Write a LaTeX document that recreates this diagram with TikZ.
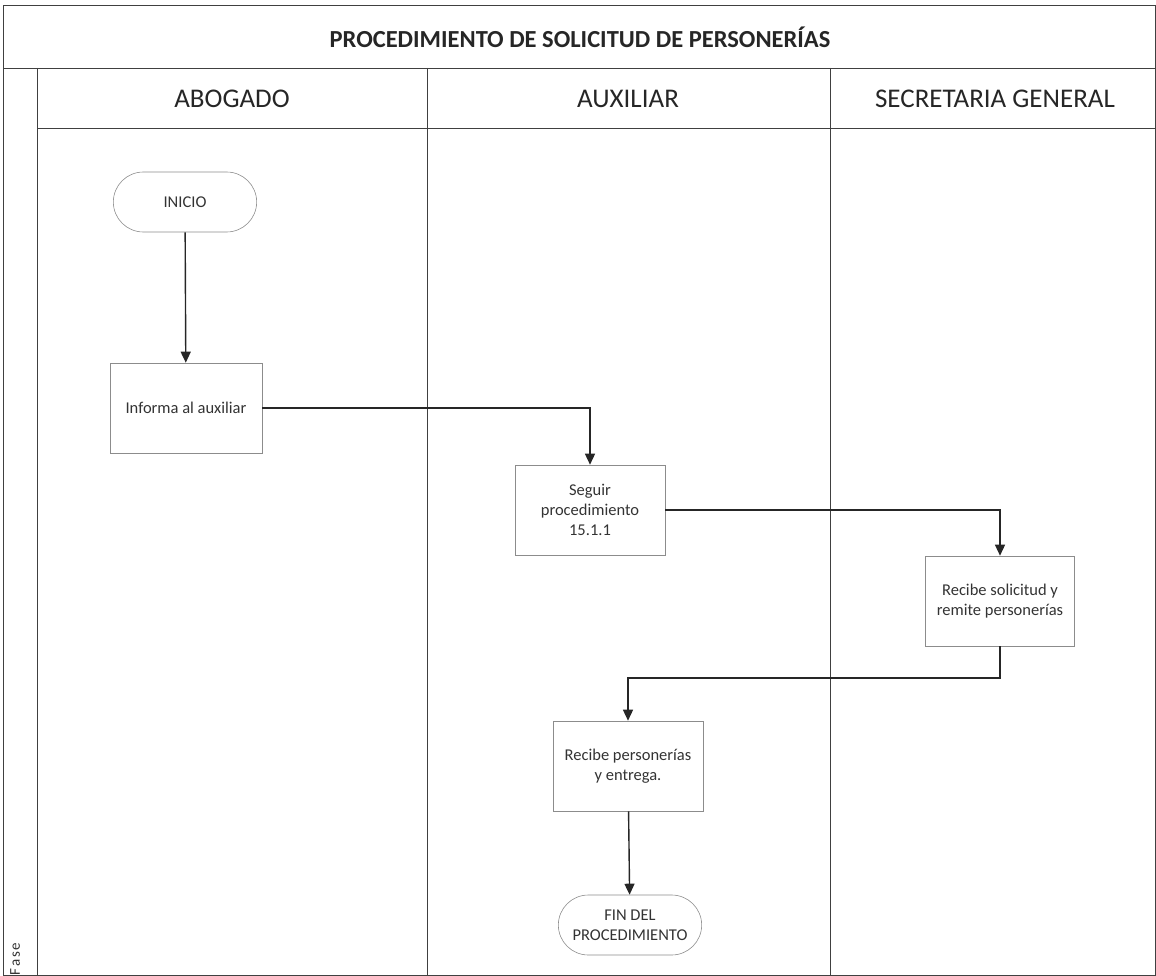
\documentclass[tikz,border=0pt]{standalone}
\usepackage{fontspec}
\setmainfont{Carlito}
\usetikzlibrary{arrows.meta,shapes.misc}
\begin{document}
\begin{tikzpicture}[x=1pt,y=-1pt,
  frame/.style={draw=black!75,line width=0.9pt},
  proc/.style={draw=black!45,line width=0.6pt,minimum width=152pt,minimum height=90pt,align=center,font=\fontsize{16.5}{20}\selectfont,text=black!80},
  term/.style={draw=black!45,line width=0.6pt,rounded rectangle,minimum width=150pt,minimum height=60pt,align=center,font=\fontsize{16.5}{20}\selectfont,text=black!80},
  flow/.style={draw=black!85,line width=1.4pt,-{Triangle[length=11pt,width=10pt]}},
  lane/.style={font=\fontsize{27}{32}\selectfont,text=black!85}
]
\useasboundingbox (0,0) rectangle (1156,976);
% frame
\draw[frame] (3,976) -- (3,5) -- (1156,5);
\draw[frame] (3,68) -- (1156,68);
\draw[frame] (37,68) -- (37,976);
\draw[frame] (37,128) -- (1156,128);
\draw[frame] (427,68) -- (427,976);
\draw[frame] (830,68) -- (830,976);
\draw[frame] (1155,5) -- (1155,976);
\draw[frame] (3,975) -- (1156,975);
% titles
\node[font=\fontsize{24.5}{28}\selectfont\bfseries,text=black!85] (title) at (580,37) {PROCEDIMIENTO DE SOLICITUD DE PERSONERÍAS};
\node[lane] (abogado) at (232,99) {ABOGADO};
\node[lane] (auxiliar) at (628,99) {AUXILIAR};
\node[lane] (secretaria) at (995,99) {SECRETARIA GENERAL};
\node[rotate=90,font=\fontsize{15}{18}\selectfont\addfontfeature{LetterSpace=12},text=black!80] (fase) at (15,959) {Fase};
% nodes
\node[term] (inicio) at (185,202) {INICIO};
\node[proc] (informa) at (186,408) {Informa al auxiliar};
\node[proc,minimum width=150pt] (seguir) at (590,510) {Seguir\\procedimiento\\15.1.1};
\node[proc,minimum width=149pt] (recsol) at (1000,601) {Recibe solicitud y\\remite personerías};
\node[proc,minimum width=150pt] (recper) at (628,766) {Recibe personerías\\y entrega.};
\node[term] (fin) at (630,925) {FIN DEL\\PROCEDIMIENTO};
% connectors
\draw[flow] (inicio) -- (informa);
\draw[flow] (informa.east) -| (seguir.north);
\draw[flow] (seguir.east) -| (recsol.north);
\draw[flow] (recsol.south) |- (628,678) -- (recper.north);
\draw[flow] (recper) -- (fin);
\end{tikzpicture}
\end{document}
